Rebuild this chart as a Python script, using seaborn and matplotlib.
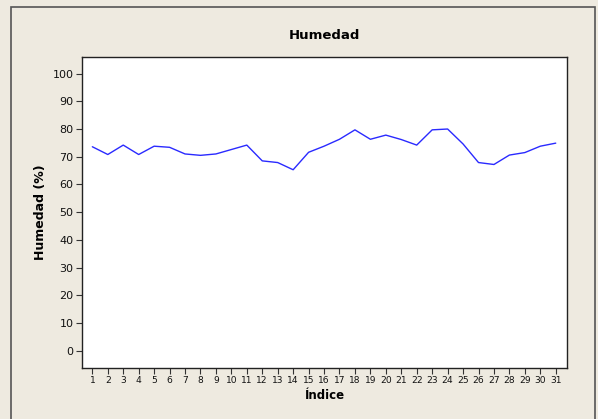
import pandas as pd
import matplotlib
matplotlib.use("Agg")
import matplotlib.pyplot as plt
import seaborn as sns
from matplotlib.patches import Rectangle

# datos
indice = list(range(1, 32))
humedad = [73.6, 70.8, 74.2, 70.8, 73.8, 73.4, 71.0, 70.5, 71.0, 72.6, 74.2,
           68.5, 67.9, 65.3, 71.6, 73.8, 76.3, 79.7, 76.3, 77.8, 76.2, 74.2,
           79.7, 80.0, 74.6, 67.9, 67.2, 70.6, 71.5, 73.8, 74.9]
yticks = list(range(0, 101, 10))

df = pd.DataFrame({"Indice": indice, "Humedad": humedad})

sns.set_style("white")
plt.rcParams['font.family'] = ['DejaVu Sans']

fondo = "#EEEAE0"
fig = plt.figure(figsize=(5.98, 4.19), dpi=100, facecolor=fondo)
ax = fig.add_axes([0.1366, 0.1224, 0.8121, 0.7423])
ax.set_facecolor("white")

sns.lineplot(data=df, x="Indice", y="Humedad", ax=ax, color="#2a2aff", linewidth=1.0)

ax.set_xlim(0.31, 31.75)
ax.set_ylim(-6.14, 106.1)
ax.set_xticks(indice)
ax.set_xticklabels([str(i) for i in indice], fontsize=6.6, color="#111111")
ax.set_yticks(yticks)
ax.set_yticklabels([str(v) for v in yticks], fontsize=8, color="#111111")
ax.tick_params(axis="both", direction="out", length=4, width=0.8, color="#333333",
               bottom=True, left=True, pad=2)

for s in ax.spines.values():
    s.set_color("#222222")
    s.set_linewidth(1.0)

ax.set_xlabel("Índice", fontsize=8.5, fontweight="bold", labelpad=3, color="black")
ax.set_ylabel("Humedad (%)", fontsize=9, fontweight="bold", labelpad=4, color="black")
ax.set_title("Humedad", fontsize=9.5, fontweight="bold", pad=13, color="black")

# marco exterior de la figura
marco = Rectangle((11 / 598, -0.05), (595 - 11) / 598, 1 - 7 / 419 + 0.05,
                  transform=fig.transFigure, fill=False, edgecolor="#555555",
                  linewidth=1.2, clip_on=False)
fig.patches.append(marco)

fig.savefig("out.png", dpi=100, facecolor=fondo)
